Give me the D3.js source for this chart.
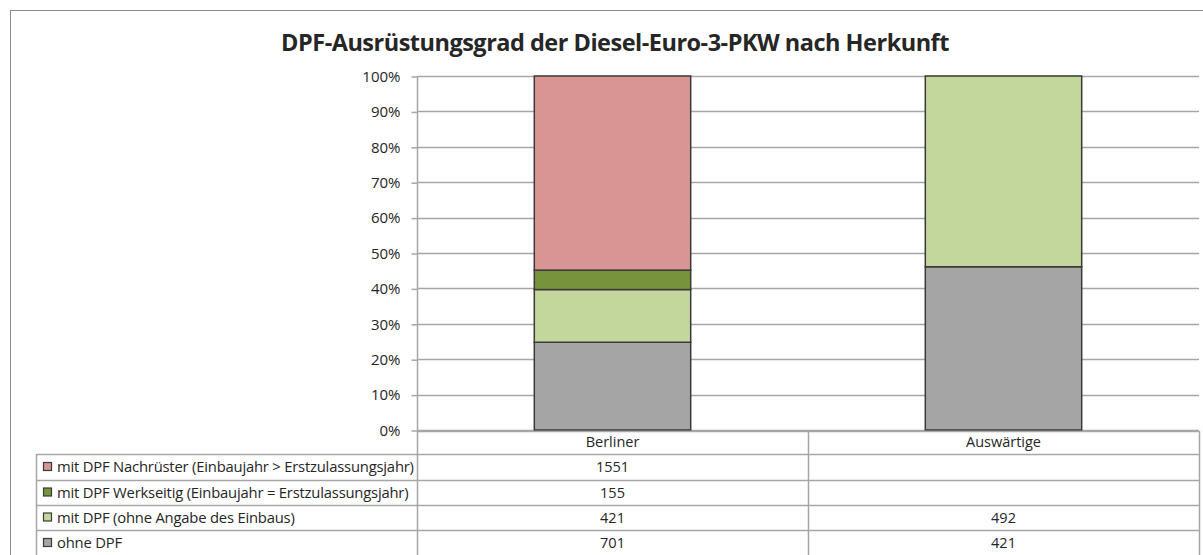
<!DOCTYPE html>
<html>
<head>
<meta charset="utf-8">
<script src="https://cdn.jsdelivr.net/npm/d3@7"></script>
<style>
  html, body { margin: 0; padding: 0; background: #fff; }
  svg { display: block; }
  text { font-family: "Open Sans", "Noto Sans", sans-serif; fill: #262626; }
</style>
</head>
<body>
<svg id="chart" width="1203" height="555"></svg>
<script>
const title = "DPF-Ausrüstungsgrad der Diesel-Euro-3-PKW nach Herkunft";
const categories = ["Berliner", "Auswärtige"];
// series listed bottom -> top of the stack
const seriesNames = [
  "ohne DPF",
  "mit DPF (ohne Angabe des Einbaus)",
  "mit DPF Werkseitig (Einbaujahr = Erstzulassungsjahr)",
  "mit DPF Nachrüster (Einbaujahr > Erstzulassungsjahr)"
];
const ohneDPF      = [701, 421];
const ohneAngabe   = [421, 492];
const werkseitig   = [155, null];
const nachruester  = [1551, null];
const seriesColors = ["#A5A5A5", "#C3D69B", "#77933C", "#D99594"];
const yTicks = [0, 0.1, 0.2, 0.3, 0.4, 0.5, 0.6, 0.7, 0.8, 0.9, 1.0];

const seriesValues = [ohneDPF, ohneAngabe, werkseitig, nachruester];
const rows = categories.map((c, i) => {
  const r = { cat: c };
  seriesNames.forEach((s, j) => r[s] = seriesValues[j][i] || 0);
  return r;
});

const svg = d3.select("#chart");
svg.append("rect").attr("width", 1203).attr("height", 555).attr("fill", "#fff");

// outer chart frame
svg.append("rect").attr("x", 10.5).attr("y", 10.5).attr("width", 1300).attr("height", 700)
  .attr("fill", "none").attr("stroke", "#8a8a8a").attr("stroke-width", 1);

// title
svg.append("text").attr("x", 615).attr("y", 51).attr("text-anchor", "middle")
  .attr("font-size", 23.5).attr("font-weight", "bold").attr("fill", "#000")
  .style("letter-spacing", "-0.5px")
  .text(title);

const plotLeft = 417, plotRight = 1199, plotTop = 76, plotBottom = 430;
const y = d3.scaleLinear().domain([0, 1]).range([plotBottom, plotTop]);
const x = d3.scaleBand().domain(categories).range([plotLeft, plotRight]).padding(0);
const barW = x.bandwidth() * 0.4;

const gridColor = "#a6a6a6";

// gridlines
svg.append("g").selectAll("line").data(yTicks).join("line")
  .attr("x1", plotLeft).attr("x2", plotRight)
  .attr("y1", d => Math.round(y(d)) + 0.5).attr("y2", d => Math.round(y(d)) + 0.5)
  .attr("stroke", gridColor).attr("stroke-width", 1.5);

// y axis
const yAxis = d3.axisLeft(y).tickValues(yTicks).tickFormat(d3.format(".0%")).tickSize(6).tickPadding(11);
const gy = svg.append("g").attr("transform", `translate(${plotLeft + 0.5},0.5)`).call(yAxis);
gy.select(".domain").remove();
gy.selectAll(".tick line").attr("stroke", gridColor).attr("stroke-width", 1.5);
gy.selectAll(".tick text").attr("font-size", 15).attr("fill", "#262626")
  .style("font-family", '"Open Sans", sans-serif');

// stacked bars
const stack = d3.stack().keys(seriesNames).offset(d3.stackOffsetExpand);
const stacked = stack(rows);
svg.append("g").selectAll("g").data(stacked).join("g")
  .attr("fill", (d, i) => seriesColors[i])
  .selectAll("rect").data(d => d.filter(p => p[1] - p[0] > 0)).join("rect")
  .attr("x", d => x(d.data.cat) + (x.bandwidth() - barW) / 2)
  .attr("width", barW)
  .attr("y", d => y(d[1]))
  .attr("height", d => y(d[0]) - y(d[1]))
  .attr("stroke", "#3a3a3a").attr("stroke-width", 1.5);

// data table
const tableLeft = 36, headerTop = 431, rowTops = [454, 480, 505, 530], tableBottom = 556;
const tableRows = seriesNames.slice().reverse();
const tableColors = seriesColors.slice().reverse();
const tableValues = seriesValues.slice().reverse();
const tg = svg.append("g");
const tStroke = "#a6a6a6";

// horizontal lines
tg.append("line").attr("x1", plotLeft).attr("x2", plotRight).attr("y1", headerTop + 0.5).attr("y2", headerTop + 0.5)
  .attr("stroke", tStroke).attr("stroke-width", 1.5);
tg.selectAll("line.h").data(rowTops.concat([tableBottom])).join("line").attr("class", "h")
  .attr("x1", tableLeft).attr("x2", plotRight)
  .attr("y1", d => d + 0.5).attr("y2", d => d + 0.5)
  .attr("stroke", tStroke).attr("stroke-width", 1.5);
// vertical lines
tg.append("line").attr("x1", tableLeft + 0.5).attr("x2", tableLeft + 0.5).attr("y1", rowTops[0]).attr("y2", tableBottom)
  .attr("stroke", tStroke).attr("stroke-width", 1.5);
const vx = [plotLeft, x(categories[1]), plotRight];
tg.selectAll("line.v").data(vx).join("line").attr("class", "v")
  .attr("x1", d => d + 0.5).attr("x2", d => d + 0.5)
  .attr("y1", (d, i) => i === 0 ? plotTop : headerTop).attr("y2", tableBottom)
  .attr("stroke", tStroke).attr("stroke-width", 1.5);

// header labels
tg.selectAll("text.hdr").data(categories).join("text").attr("class", "hdr")
  .attr("x", d => x(d) + x.bandwidth() / 2).attr("y", 447)
  .attr("text-anchor", "middle").attr("font-size", 14.5).text(d => d);

// rows
const rowMid = rowTops.map((t, i) => (t + (rowTops[i + 1] || tableBottom)) / 2);
tableRows.forEach((name, i) => {
  const cy = rowMid[i];
  tg.append("rect").attr("x", 43.5).attr("y", cy - 4.5).attr("width", 8).attr("height", 8)
    .attr("fill", tableColors[i]).attr("stroke", "#3a3a3a").attr("stroke-width", 1.2);
  tg.append("text").attr("x", 57).attr("y", cy + 5).attr("font-size", 14.8)
    .style("letter-spacing", "-0.2px").text(name);
  categories.forEach((c, j) => {
    const v = tableValues[i][j];
    if (v != null) {
      tg.append("text").attr("x", x(c) + x.bandwidth() / 2).attr("y", cy + 5)
        .attr("text-anchor", "middle").attr("font-size", 14.5).text(v);
    }
  });
});
</script>
</body>
</html>
